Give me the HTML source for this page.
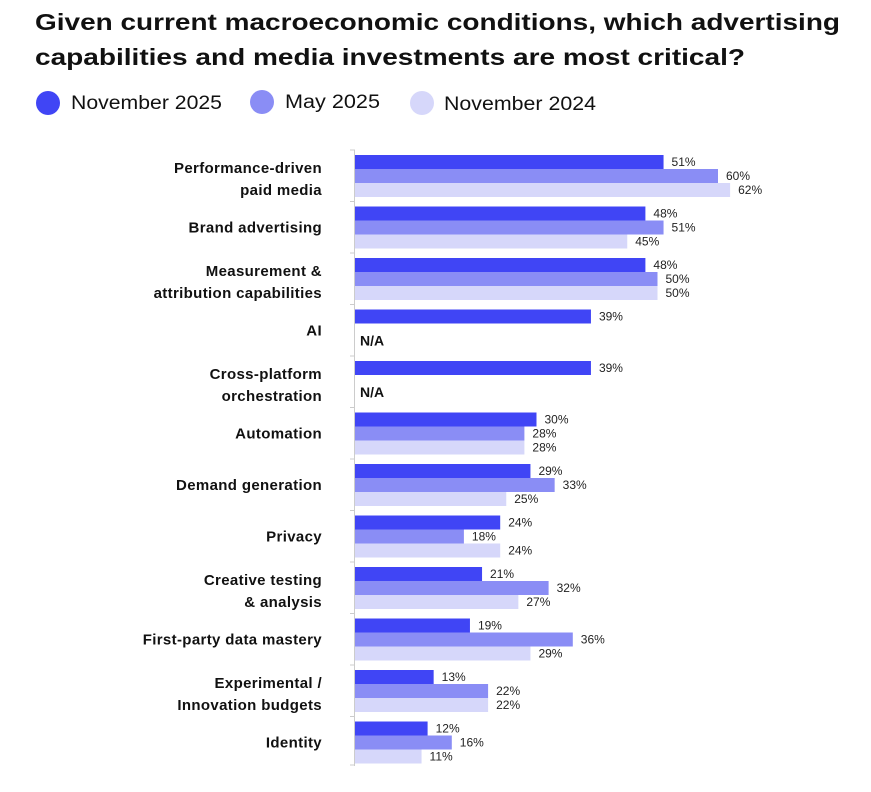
<!DOCTYPE html>
<html><head><meta charset="utf-8"><style>
body{margin:0;background:#fff;width:871px;height:787px;overflow:hidden;font-family:"Liberation Sans",sans-serif}
</style></head><body>
<svg width="871" height="787" xmlns="http://www.w3.org/2000/svg" font-family="Liberation Sans, sans-serif">
<text x="35" y="30" font-size="23" font-weight="bold" fill="#111" textLength="805" lengthAdjust="spacingAndGlyphs">Given current macroeconomic conditions, which advertising</text>
<text x="35" y="65" font-size="23" font-weight="bold" fill="#111" textLength="710" lengthAdjust="spacingAndGlyphs">capabilities and media investments are most critical?</text>
<circle cx="48" cy="103" r="12" fill="#4045F5"/><text x="71" y="109" font-size="19" fill="#111" textLength="151" lengthAdjust="spacingAndGlyphs">November 2025</text>
<circle cx="262" cy="102" r="12" fill="#8A8DF5"/><text x="285" y="108" font-size="19" fill="#111" textLength="95" lengthAdjust="spacingAndGlyphs">May 2025</text>
<circle cx="422" cy="103" r="12" fill="#D6D7FA"/><text x="444" y="110" font-size="19" fill="#111" textLength="152" lengthAdjust="spacingAndGlyphs">November 2024</text>
<line x1="354.5" y1="150" x2="354.5" y2="766" stroke="#ccc"/>
<g id="bars"></g>
</svg>
<script>
const d=[["Performance-driven|paid media",51,60,62],["Brand advertising",48,51,45],["Measurement &|attribution capabilities",48,50,50],["AI",39,null,null],["Cross-platform|orchestration",39,null,null],["Automation",30,28,28],["Demand generation",29,33,25],["Privacy",24,18,24],["Creative testing|& analysis",21,32,27],["First-party data mastery",19,36,29],["Experimental /|Innovation budgets",13,22,22],["Identity",12,16,11]];
const c=["#4045F5","#8A8DF5","#D6D7FA"];let s="";
d.forEach((r,i)=>{const y=155+i*51.5;
 s+=`<line x1="350" y1="${y-5}" x2="355" y2="${y-5}" stroke="#ccc"/>`;
 for(let k=0;k<3;k++){const v=r[k+1];const by=y+k*14;
  if(v===null){if(k==1)s+=`<text x="360" y="${by+22}" font-size="14" font-weight="bold" fill="#111">N/A</text>`;continue;}
  const w=v*6.05;s+=`<rect x="355" y="${by}" width="${w}" height="14" fill="${c[k]}"/>`;
  s+=`<text x="${355+w+8}" y="${by+11}" font-size="12" fill="#222">${v}%</text>`;}
 const L=r[0].split("|");const cy=y+21;
 const st=`text-anchor="end" font-size="15" letter-spacing="0.35" font-weight="bold" fill="#111"`;
 if(L.length==1)s+=`<text x="322" y="${cy+5}" ${st}>${L[0].replace("&","&amp;")}</text>`;
 else L.forEach((t,j)=>s+=`<text x="322" y="${cy-3+j*22}" ${st}>${t.replace("&","&amp;")}</text>`);
});
s+=`<line x1="350" y1="765" x2="355" y2="765" stroke="#ccc"/>`;
document.getElementById("bars").innerHTML=s;
</script>
</body></html>
